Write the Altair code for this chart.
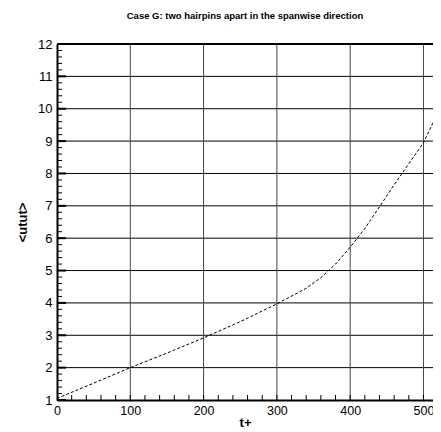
import altair as alt
import pandas as pd

# Curve data
t_plus = [0, 50, 100, 150, 200, 250, 300, 340, 360, 380, 400, 420, 440, 460, 480, 500, 520, 525]
utut = [1.05, 1.52, 2.0, 2.45, 2.92, 3.42, 3.97, 4.45, 4.78, 5.2, 5.72, 6.3, 6.97, 7.65, 8.3, 8.95, 9.9, 10.1]

x_tick_labels = [0, 100, 200, 300, 400, 500]
y_tick_labels = [1, 2, 3, 4, 5, 6, 7, 8, 9, 10, 11, 12]
h_grid = [2, 3, 4, 5, 6, 7, 8, 9, 10, 11]
v_grid = [100, 200, 300, 400, 500]
x_minor = [v for v in range(0, 525, 20)]
y_minor = [1 + i * 0.2 for i in range(0, 56)]
y_major_ticks = y_tick_labels

W, H = 376, 356
X_DOMAIN = [0, 513]
Y_DOMAIN = [1, 12]

xs = alt.Scale(domain=X_DOMAIN, nice=False, zero=False)
ys = alt.Scale(domain=Y_DOMAIN, nice=False, zero=False)

curve_df = pd.DataFrame({"t": t_plus, "u": utut})

x_axis = alt.Axis(values=x_tick_labels, ticks=False, grid=False,
                  domainColor="black", domainWidth=2,
                  labelFont="Liberation Sans", labelFontSize=12.5,
                  labelColor="black", labelPadding=4,
                  labelOverlap=False,
                  titleFont="Liberation Sans", titleFontSize=13,
                  titleFontWeight="bold", titleColor="black",
                  titlePadding=0, labelFlush=False)
y_axis = alt.Axis(values=y_tick_labels, ticks=False, grid=False,
                  domainColor="black", domainWidth=2,
                  labelFont="Liberation Sans", labelFontSize=13,
                  labelColor="black", labelPadding=5,
                  labelOverlap=False,
                  titleFont="Liberation Sans", titleFontSize=13,
                  titleFontWeight="bold", titleColor="black",
                  titlePadding=8, labelFlush=False)

base_axes = alt.Chart(curve_df).mark_line(
    color="black", strokeWidth=1, strokeDash=[3, 2], clip=True
).encode(
    x=alt.X("t:Q", scale=xs, title="t+", axis=x_axis),
    y=alt.Y("u:Q", scale=ys, title="<utut>", axis=y_axis),
)

hgrid = alt.Chart(pd.DataFrame({"y": h_grid})).mark_rule(
    color="black", strokeWidth=1
).encode(y=alt.Y("y:Q", scale=ys, title="<utut>", axis=y_axis), x=alt.value(0), x2=alt.value(W))

vgrid = alt.Chart(pd.DataFrame({"x": v_grid})).mark_rule(
    color="#444444", strokeWidth=1
).encode(x=alt.X("x:Q", scale=xs, title="t+", axis=x_axis), y=alt.value(0), y2=alt.value(H))

xminor = alt.Chart(pd.DataFrame({"x": x_minor})).mark_rule(
    color="black", strokeWidth=1, clip=True
).encode(x=alt.X("x:Q", scale=xs, title="t+", axis=x_axis), y=alt.value(H), y2=alt.value(H - 5))

yminor = alt.Chart(pd.DataFrame({"y": y_minor})).mark_rule(
    color="black", strokeWidth=1
).encode(y=alt.Y("y:Q", scale=ys, title="<utut>", axis=y_axis), x=alt.value(0), x2=alt.value(5))

ymajor = alt.Chart(pd.DataFrame({"y": y_major_ticks})).mark_rule(
    color="black", strokeWidth=2
).encode(y=alt.Y("y:Q", scale=ys, title="<utut>", axis=y_axis), x=alt.value(0), x2=alt.value(9))

top = alt.Chart(pd.DataFrame({"y": [12]})).mark_rule(
    color="black", strokeWidth=2
).encode(y=alt.Y("y:Q", scale=ys, title="<utut>", axis=y_axis), x=alt.value(0), x2=alt.value(W))

chart = alt.layer(hgrid, vgrid, xminor, yminor, ymajor, top, base_axes).properties(
    width=W, height=H,
    title=alt.TitleParams(
        "Case G: two hairpins apart in the spanwise direction",
        font="Liberation Sans", fontSize=9.5, fontWeight="bold", color="black",
        frame="group", anchor="middle", offset=18,
    ),
    autosize=alt.AutoSizeParams(type="none"),
    padding={"left": 49, "top": 36, "right": 0, "bottom": 30},
).configure_view(stroke=None).configure_axis(labelOverlap=False).configure(background="white")

chart.save("out.html", embed_options={"renderer": "svg", "actions": False})
